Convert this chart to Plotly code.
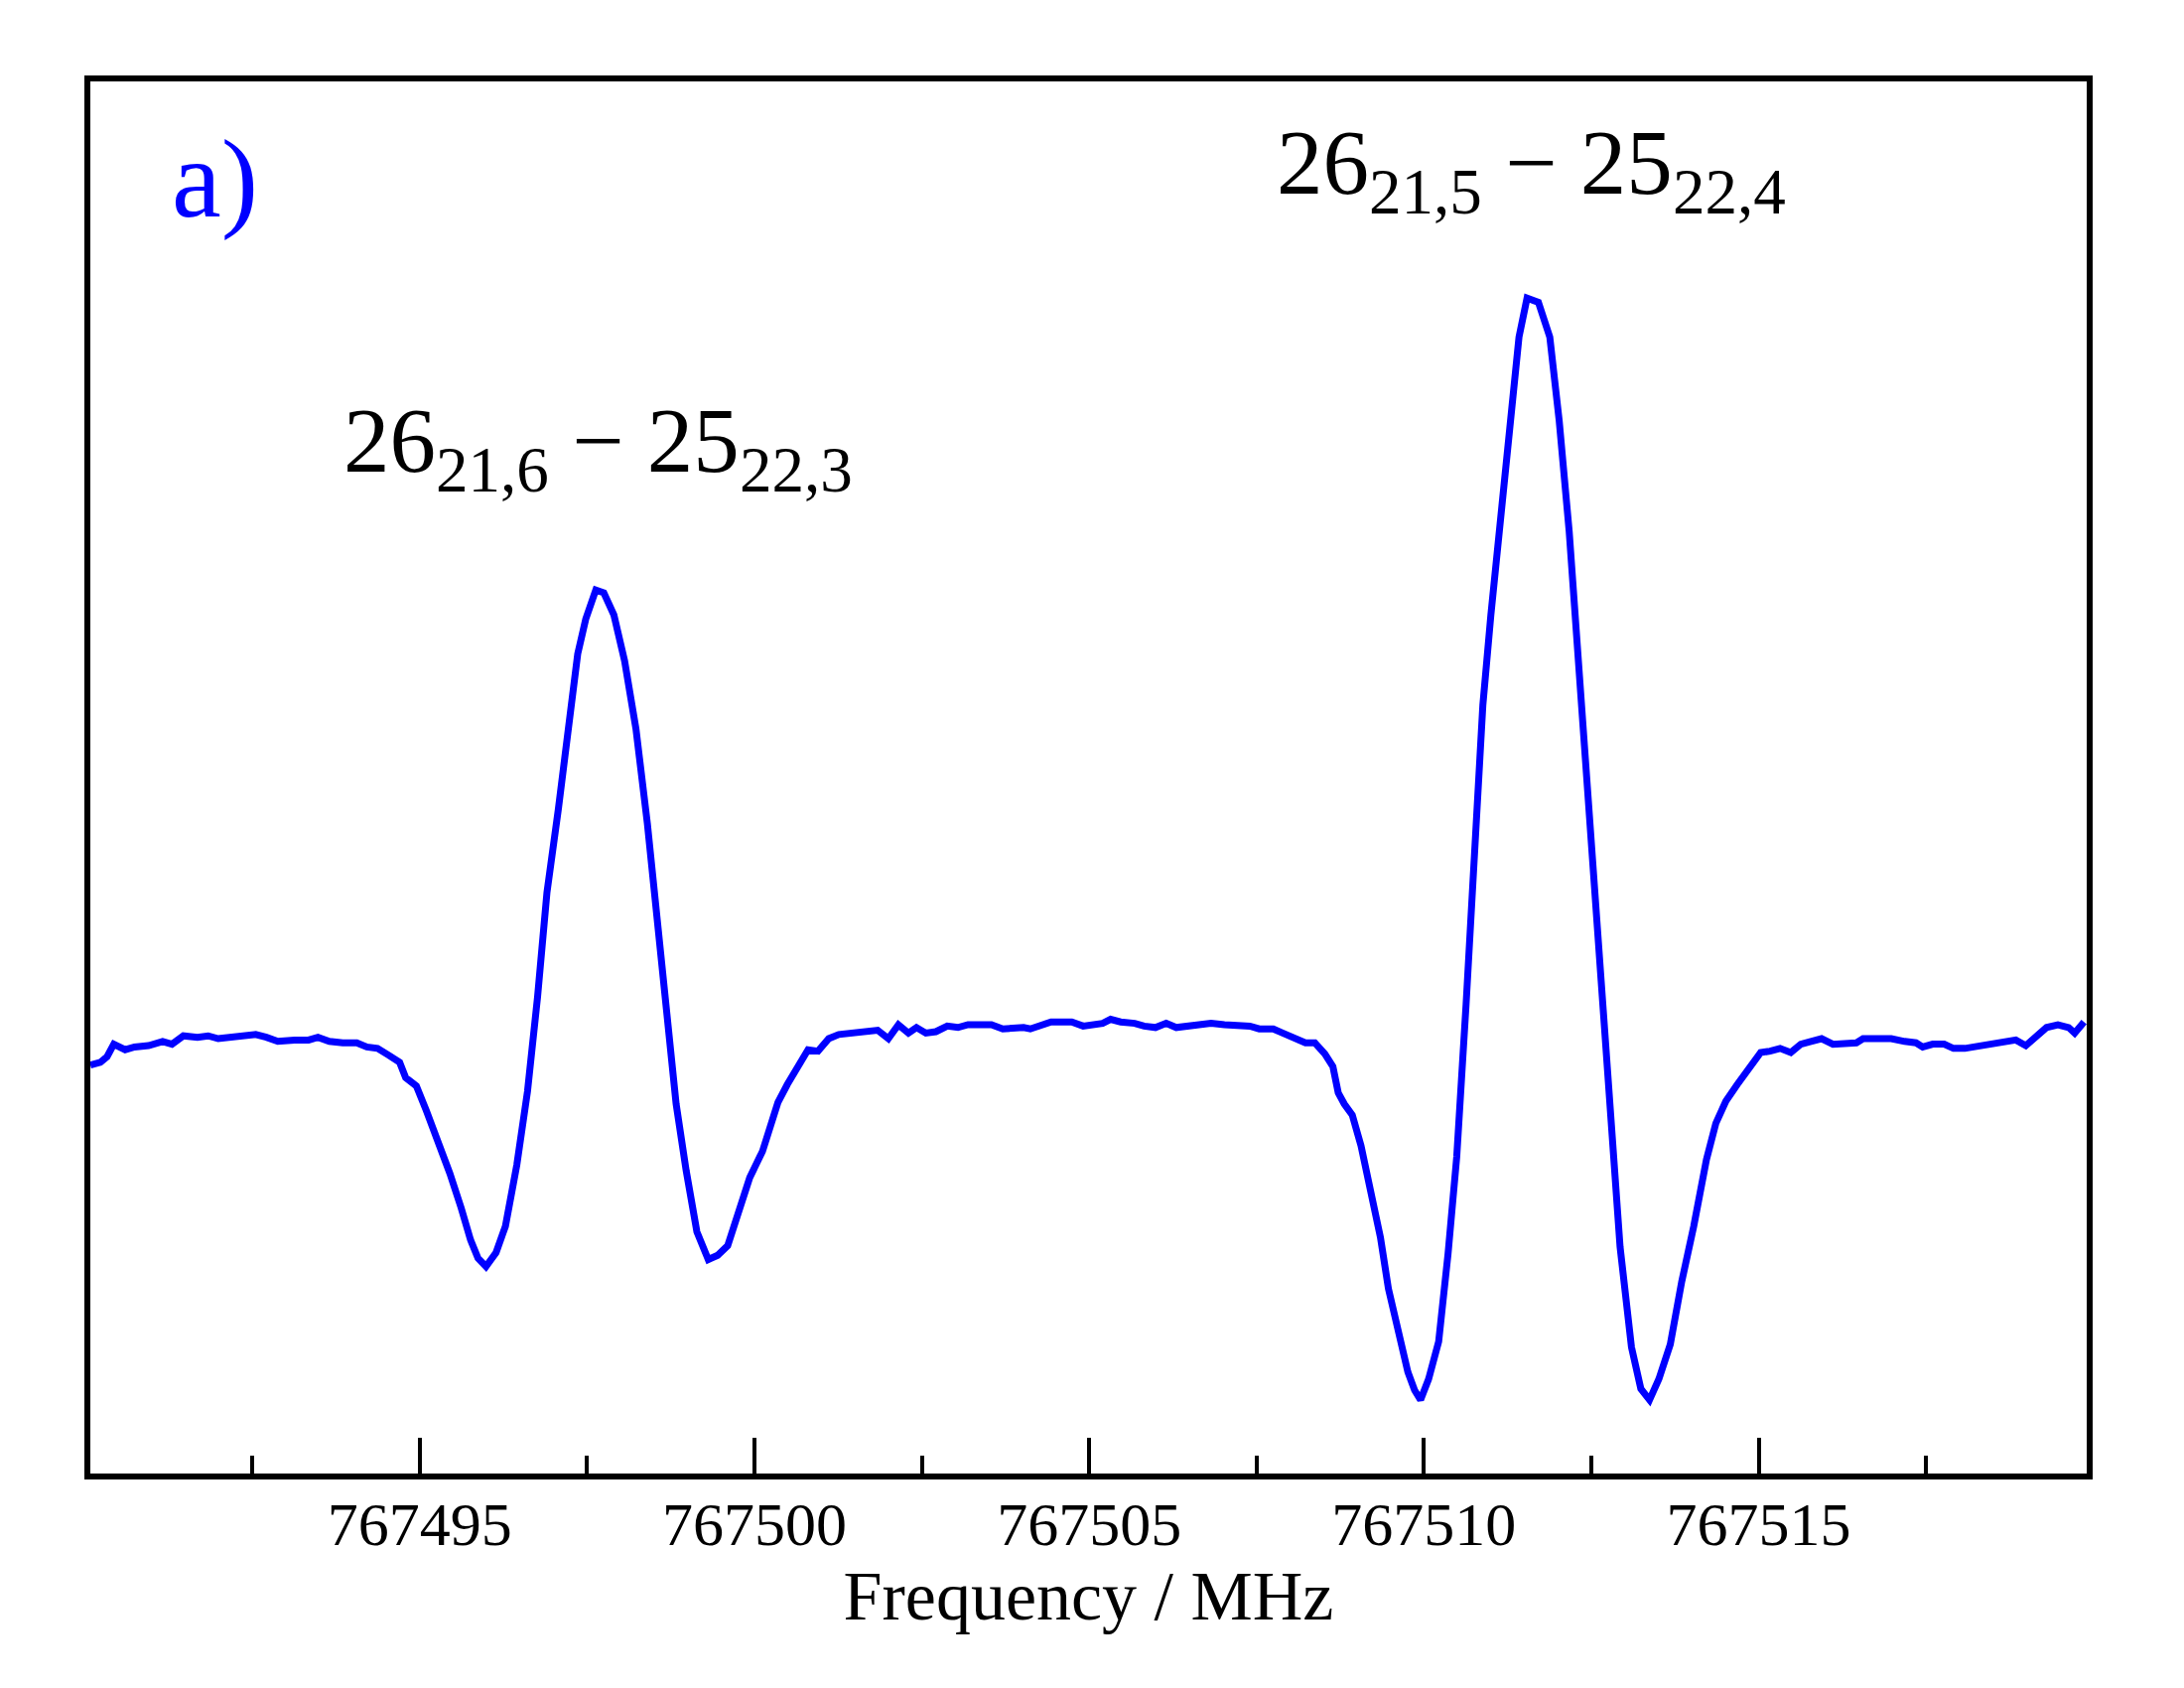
import plotly.graph_objects as go

# ---- data ----
freq_mhz = [
    767490.08, 767490.23, 767490.33, 767490.43, 767490.60, 767490.74, 767490.95, 767491.16,
    767491.30, 767491.47, 767491.68, 767491.84, 767491.99, 767492.20, 767492.40, 767492.55,
    767492.71, 767492.88, 767493.13, 767493.34, 767493.48, 767493.65, 767493.85, 767494.06,
    767494.21, 767494.37, 767494.54, 767494.70, 767494.79, 767494.95, 767495.10, 767495.29,
    767495.45, 767495.62, 767495.76, 767495.87, 767495.99, 767496.14, 767496.28, 767496.45,
    767496.61, 767496.76, 767496.90, 767497.07, 767497.23, 767497.36, 767497.48, 767497.63,
    767497.75, 767497.90, 767498.06, 767498.23, 767498.40, 767498.54, 767498.69, 767498.83,
    767498.98, 767499.14, 767499.31, 767499.45, 767499.60, 767499.77, 767499.93, 767500.12,
    767500.22, 767500.35, 767500.49, 767500.66, 767500.80, 767500.95, 767501.11, 767501.26,
    767501.42, 767501.59, 767501.74, 767501.84, 767502.00, 767502.15, 767502.30, 767502.42,
    767502.56, 767502.71, 767502.88, 767503.04, 767503.19, 767503.39, 767503.54, 767503.71,
    767503.87, 767504.02, 767504.12, 767504.29, 767504.43, 767504.64, 767504.74, 767504.91,
    767505.05, 767505.20, 767505.32, 767505.47, 767505.68, 767505.82, 767505.99, 767506.15,
    767506.30, 767506.44, 767506.61, 767506.82, 767507.02, 767507.23, 767507.40, 767507.54,
    767507.75, 767507.89, 767508.06, 767508.23, 767508.37, 767508.52, 767508.64, 767508.72,
    767508.81, 767508.93, 767509.06, 767509.20, 767509.35, 767509.47, 767509.62, 767509.76,
    767509.86, 767509.95, 767510.07, 767510.22, 767510.36, 767510.49, 767510.63, 767510.76,
    767510.88, 767511.00, 767511.17, 767511.30, 767511.42, 767511.54, 767511.71, 767511.88,
    767512.02, 767512.17, 767512.31, 767512.46, 767512.62, 767512.77, 767512.93, 767513.10,
    767513.24, 767513.37, 767513.51, 767513.68, 767513.85, 767514.03, 767514.22, 767514.36,
    767514.51, 767514.68, 767514.84, 767515.03, 767515.17, 767515.32, 767515.48, 767515.63,
    767515.78, 767515.94, 767516.11, 767516.27, 767516.46, 767516.56, 767516.77, 767516.98,
    767517.18, 767517.35, 767517.45, 767517.60, 767517.77, 767517.91, 767518.08, 767518.22,
    767518.39, 767518.53, 767518.70, 767518.84, 767518.99, 767519.16, 767519.30, 767519.47,
    767519.63, 767519.72, 767519.86,
]

intensity = [
    29.34, 29.54, 29.94, 30.84, 30.44, 30.64, 30.74, 31.04,
    30.84, 31.44, 31.34, 31.44, 31.24, 31.34, 31.54, 31.54,
    31.34, 31.04, 31.14, 31.14, 31.34, 31.04, 30.94, 30.94,
    30.64, 30.54, 30.04, 29.54, 28.44, 27.84, 26.05, 23.75,
    21.56, 19.06, 16.77, 15.47, 14.87, 15.87, 17.76, 22.16,
    27.45, 34.23, 41.72, 47.70, 54.19, 58.88, 61.38, 63.47,
    63.27, 61.68, 58.38, 53.49, 46.71, 40.22, 33.73, 26.55,
    21.76, 17.37, 15.37, 15.67, 16.37, 18.96, 21.26, 23.15,
    24.55, 26.65, 27.94, 29.24, 30.44, 30.34, 31.24, 31.54,
    31.64, 31.74, 31.84, 31.84, 31.24, 32.24, 31.64, 32.04,
    31.64, 31.74, 32.14, 32.04, 32.24, 32.24, 32.24, 31.94,
    32.04, 32.04, 31.94, 32.24, 32.44, 32.44, 32.44, 32.14,
    32.24, 32.34, 32.63, 32.44, 32.34, 32.14, 32.04, 32.34,
    32.04, 32.14, 32.24, 32.34, 32.24, 32.14, 32.14, 31.94,
    31.94, 31.64, 31.24, 30.94, 30.94, 30.14, 29.24, 27.35,
    26.55, 25.75, 23.55, 20.26, 16.97, 13.27, 9.98, 7.29,
    5.99, 5.29, 6.79, 9.48, 15.77, 22.75, 33.73, 44.71,
    55.19, 61.68, 69.66, 75.65, 81.64, 84.43, 84.13, 81.64,
    75.65, 67.66, 58.18, 47.70, 36.73, 26.75, 16.27, 9.08,
    6.09, 5.29, 6.79, 9.28, 13.77, 17.76, 22.55, 25.15,
    26.75, 27.94, 28.94, 30.24, 30.34, 30.54, 30.24, 30.84,
    31.04, 31.24, 30.84, 30.94, 30.94, 31.24, 31.24, 31.24,
    31.04, 30.94, 30.64, 30.84, 30.84, 30.54, 30.54, 30.64,
    30.84, 30.94, 30.94, 31.14, 30.74, 31.54, 32.04, 32.24,
    32.04, 31.64, 32.44,
]

major_tick_vals = [767495, 767500, 767505, 767510, 767515]
major_tick_text = ["767495", "767500", "767505", "767510", "767515"]
minor_tick_vals = [767492.5, 767497.5, 767502.5, 767507.5, 767512.5, 767517.5]

peak_freqs = [767497.67, 767511.61]
peak_labels = [
    "26<sub>21,6</sub> \u2212 25<sub>22,3</sub>",
    "26<sub>21,5</sub> \u2212 25<sub>22,4</sub>",
]
peak_label_y = [78.0, 98.0]
panel_label = "a)"

FONT = "Liberation Serif"

fig = go.Figure()
fig.add_trace(go.Scatter(
    x=freq_mhz, y=intensity, mode="lines",
    line=dict(color="#0000FF", width=7),
    showlegend=False, hoverinfo="skip",
))

for fx, txt, ly in zip(peak_freqs, peak_labels, peak_label_y):
    fig.add_annotation(
        x=fx, y=ly, xref="x", yref="y", text=txt, showarrow=False,
        xanchor="center", yanchor="top",
        font=dict(family=FONT, size=93, color="black"),
    )

fig.add_annotation(
    x=0.040, y=0.9755, xref="paper", yref="paper", text=panel_label,
    showarrow=False, xanchor="left", yanchor="top",
    font=dict(family=FONT, size=112, color="#0000FF"),
)

fig.update_layout(
    width=2200, height=1700,
    margin=dict(l=83, r=106, t=74, b=224),
    paper_bgcolor="white", plot_bgcolor="white",
    font=dict(family=FONT, color="black"),
)

fig.update_xaxes(
    range=[767490.08, 767519.90],
    showline=True, linecolor="black", linewidth=5.5, mirror=True,
    showgrid=False, zeroline=False,
    ticks="inside", ticklen=36, tickwidth=4, tickcolor="black",
    tickmode="array", tickvals=major_tick_vals, ticktext=major_tick_text,
    tickfont=dict(family=FONT, size=62, color="black"),
    ticklabelstandoff=-8,
    minor=dict(tickmode="array", tickvals=minor_tick_vals, ticks="inside",
               ticklen=18, tickwidth=4, tickcolor="black", showgrid=False),
    title=dict(text="Frequency / MHz", font=dict(family=FONT, size=70, color="black"),
               standoff=0),
)

fig.update_yaxes(
    range=[0, 100],
    showline=True, linecolor="black", linewidth=5.5, mirror=True,
    showgrid=False, zeroline=False, showticklabels=False, ticks="",
)

fig.write_html("out.html")
